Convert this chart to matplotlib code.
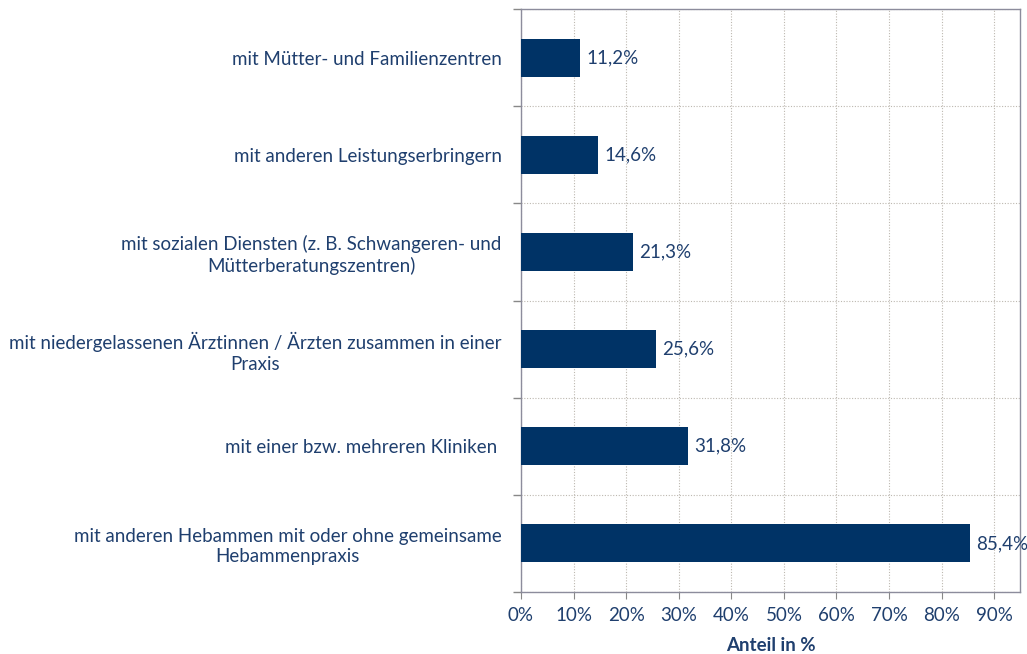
import matplotlib
matplotlib.use('Agg')
import matplotlib.pyplot as plt
from matplotlib.ticker import FixedLocator, PercentFormatter
import numpy as np

plt.rcParams['font.family'] = ['Lato', 'DejaVu Sans']

# Daten (von oben nach unten)
categories = [
    'mit Mütter- und Familienzentren',
    'mit anderen Leistungserbringern',
    'mit sozialen Diensten (z. B. Schwangeren- und\nMütterberatungszentren)',
    'mit niedergelassenen Ärztinnen / Ärzten zusammen in einer\nPraxis',
    'mit einer bzw. mehreren Kliniken ',
    'mit anderen Hebammen mit oder ohne gemeinsame\nHebammenpraxis',
]
values = [11.2, 14.6, 21.3, 25.6, 31.8, 85.4]

bar_color = '#003366'
text_color = '#1F3F6E'
grid_color = '#BDB8B0'

fig = plt.figure(figsize=(10.27, 6.54), dpi=100)
ax = fig.add_axes([0.5073, 0.0948, 0.4859, 0.8914])

y = np.arange(len(categories))
ax.barh(y, values, height=0.39, color=bar_color, zorder=3)

# Wertebeschriftung
for yi, v in zip(y, values):
    ax.text(v + 1.2, yi, f'{v:.1f}%'.replace('.', ','), va='center', ha='left',
            fontsize=13.5, color=text_color, zorder=4)

ax.set_xlim(0, 94.9)
ax.set_ylim(len(categories) - 0.5, -0.5)
ax.set_xticks(np.arange(0, 91, 10))
ax.xaxis.set_major_formatter(PercentFormatter(decimals=0))

ax.set_yticks(y)
ax.set_yticklabels(categories, multialignment='center', linespacing=1.25)
ax.yaxis.set_minor_locator(FixedLocator(np.arange(-0.5, len(categories), 1)))
ax.tick_params(axis='y', which='major', length=0, pad=14, labelsize=13.5, labelcolor=text_color)
ax.tick_params(axis='y', which='minor', length=6, color='#888888', width=1)
ax.tick_params(axis='x', length=5, color='#888888', labelsize=13.5, labelcolor=text_color, pad=6)

ax.grid(axis='x', which='major', linestyle=(0, (1, 1.5)), color=grid_color, linewidth=0.8, zorder=0)
ax.grid(axis='y', which='minor', linestyle=(0, (1, 1.5)), color=grid_color, linewidth=0.8, zorder=0)

for side in ['left', 'bottom', 'top', 'right']:
    ax.spines[side].set_color('#8C8C9C')
    ax.spines[side].set_linewidth(1)

ax.set_xlabel('Anteil in %', fontsize=13.5, fontweight='bold', color=text_color, labelpad=9)

plt.savefig('out.png', dpi=100)
